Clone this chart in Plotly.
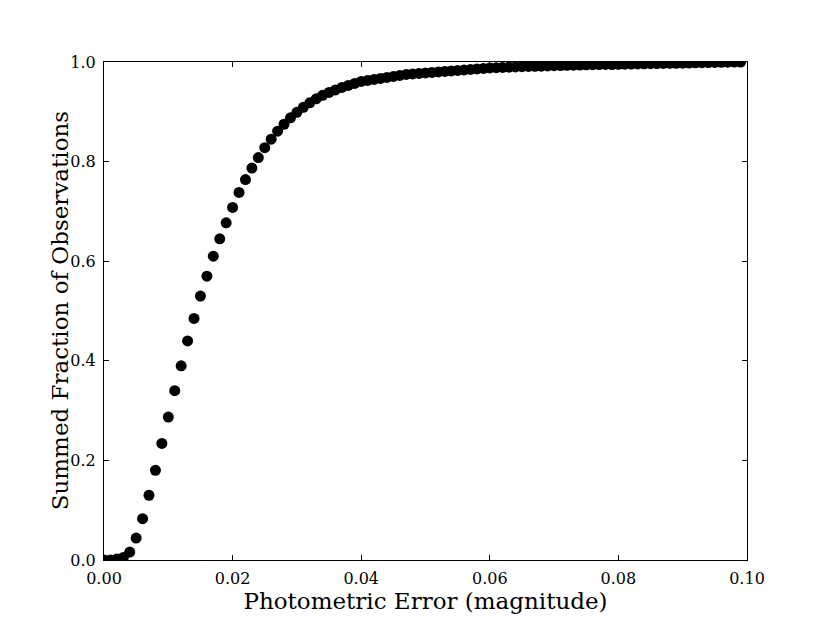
import plotly.graph_objects as go

x_err = [i / 1000 for i in range(100)]
frac = [
    0.000, 0.000, 0.002, 0.005, 0.016, 0.044, 0.083, 0.130, 0.180, 0.234,
    0.287, 0.340, 0.390, 0.440, 0.485, 0.530, 0.570, 0.610, 0.645, 0.677,
    0.708, 0.738, 0.764, 0.787, 0.808, 0.828, 0.845, 0.861, 0.875, 0.888,
    0.899, 0.909, 0.918, 0.926, 0.933, 0.939, 0.944, 0.949, 0.953, 0.957,
    0.961, 0.963, 0.965, 0.967, 0.969, 0.971, 0.973, 0.975, 0.976, 0.977,
    0.978, 0.979, 0.980, 0.981, 0.982, 0.983, 0.984, 0.985, 0.986, 0.987,
    0.988, 0.9885, 0.989, 0.9895, 0.990, 0.9905, 0.991, 0.9913, 0.9916, 0.992,
    0.9925, 0.993, 0.9933, 0.9936, 0.994, 0.9943, 0.9946, 0.9949, 0.9952, 0.995,
    0.9953, 0.9956, 0.9959, 0.9962, 0.9965, 0.9967, 0.9969, 0.9971, 0.9973, 0.9975,
    0.9977, 0.998, 0.9983, 0.9986, 0.9989, 0.9992, 0.9995, 0.9997, 0.9999, 1.000,
]
x_ticks = [0.0, 0.02, 0.04, 0.06, 0.08, 0.10]
x_tick_labels = ["0.00", "0.02", "0.04", "0.06", "0.08", "0.10"]
y_ticks = [0.0, 0.2, 0.4, 0.6, 0.8, 1.0]
y_tick_labels = ["0.0", "0.2", "0.4", "0.6", "0.8", "1.0"]
x_title = "Photometric Error (magnitude)"
y_title = "Summed Fraction of Observations"

fig = go.Figure()
fig.add_trace(go.Scatter(
    x=x_err, y=frac, mode="markers",
    marker=dict(color="black", size=11, line=dict(width=0)),
    showlegend=False,
))

axis_common = dict(
    showline=True, linecolor="black", linewidth=1, mirror="ticks",
    ticks="inside", ticklen=5, tickcolor="black", tickwidth=1,
    showgrid=False, zeroline=False,
    tickfont=dict(family="DejaVu Serif", size=16, color="black"),
)

fig.update_layout(
    width=830, height=615,
    margin=dict(l=96, r=91, t=54, b=63),
    paper_bgcolor="white", plot_bgcolor="white",
    xaxis=dict(range=[0, 0.10], tickvals=x_ticks, ticktext=x_tick_labels,
               ticklabelstandoff=4,
               title=dict(text=x_title,
                          font=dict(family="DejaVu Serif", size=23, color="black"),
                          standoff=2),
               **axis_common),
    yaxis=dict(range=[0, 1.0], tickvals=y_ticks, ticktext=y_tick_labels,
               ticklabelstandoff=4, **axis_common),
)
fig.add_annotation(
    text=y_title, xref="paper", yref="paper", x=-0.068, y=0.5,
    xanchor="center", yanchor="middle", textangle=-90, showarrow=False,
    font=dict(family="DejaVu Serif", size=23, color="black"),
)

fig.write_html("out.html")
